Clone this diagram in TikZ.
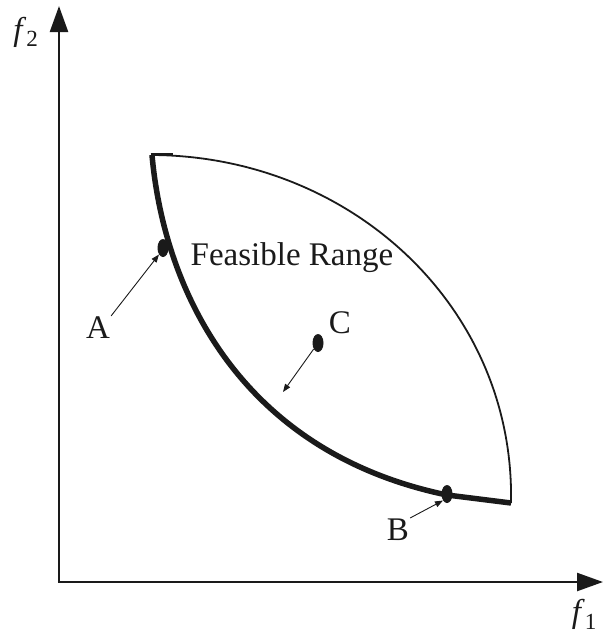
\documentclass[tikz,border=0pt]{standalone}
\usepackage{fontspec}
\setmainfont{Liberation Serif}
\usetikzlibrary{
    positioning,
    calc,
    shapes.geometric,
    arrows.meta
}
\definecolor{Tinta}{HTML}{1A1A1A}

\begin{document}
\begin{tikzpicture}[
        x=1pt, y=-1pt,
        eixo/.style={line width=2.4pt, draw=Tinta,
            -{Triangle[length=26pt,width=18pt]}},
        fronteira/.style={line width=5.5pt, draw=Tinta},
        limite/.style={line width=1.8pt, draw=Tinta},
        seta/.style={line width=0.9pt, draw=Tinta,
            -{Triangle[length=8pt,width=6pt]}},
        ponto/.style={ellipse, fill=Tinta, inner sep=0pt,
            minimum width=11pt, minimum height=18pt},
        rotulo/.style={font=\fontsize{33}{38}\selectfont, text=Tinta, inner sep=1pt}
    ]

    \useasboundingbox (0,0) rectangle (603,637);

    % eixos
    \coordinate (origem) at (59,582);
    \coordinate (topo) at (59,6);
    \coordinate (fim) at (603,582);
    \draw[eixo] (origem) -- (topo);
    \draw[eixo] ($(origem)+(-1.2,0)$) -- (fim);
    \node[rotulo] (f2) at (26,32) {\textit{f}\textsubscript{2}};
    \node[rotulo, anchor=south east, inner sep=3pt] (f1) at (600,633) {\textit{f}\textsubscript{1}};

    % regiao viavel
    \coordinate (canto) at (152,155);
    \coordinate (quina) at (511,503);
    \coordinate (joelho) at (447,495);
    \draw[limite] (canto) .. controls (352,156) and (515,308) .. (quina);
    \draw[fronteira, line join=round] (canto) .. controls (164,290) and (240,452) .. (joelho) -- (quina);
    \draw[limite] ($(canto)+(-1.5,-0.9)$) -- ++(22,0);

    \node[rotulo] (viavel) at (292,258) {Feasible Range};

    % pontos
    \node[ponto] (ptA) at (163,248) {};
    \node[ponto] (ptB) at (447,494) {};
    \node[ponto] (ptC) at (318,343) {};

    \node[rotulo] (lblA) at (98,328) {A};
    \node[rotulo] (lblB) at (398,530) {B};
    \node[rotulo] (lblC) at (340,323) {C};

    \coordinate (alvoC) at (283,392);
    \draw[seta] (lblA.north east) -- (ptA.south west);
    \draw[seta] (lblB.north east) -- (ptB.south west);
    \draw[seta] (ptC) -- (alvoC);

\end{tikzpicture}
\end{document}
